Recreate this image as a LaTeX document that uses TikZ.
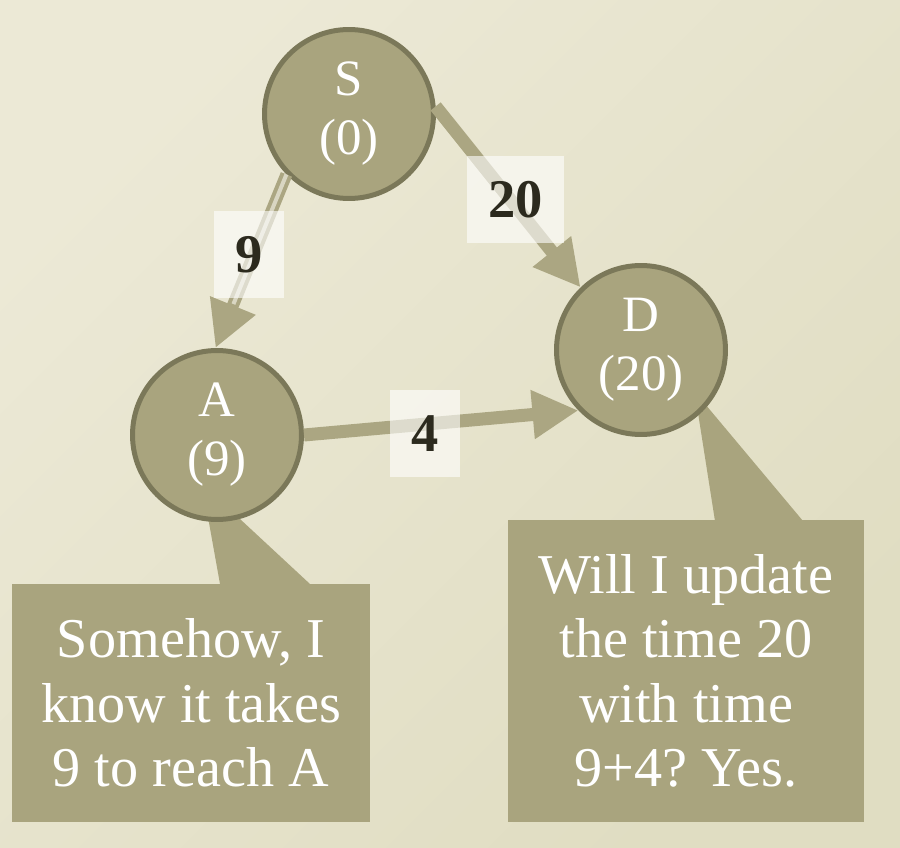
\documentclass[tikz,border=0pt]{standalone}
\usepackage{fontspec}
\setmainfont{Liberation Serif}
\usetikzlibrary{arrows.meta,positioning}
\frenchspacing

\definecolor{fondhaut}{HTML}{ECE9D6}
\definecolor{fondbas}{HTML}{E0DDC2}
\definecolor{olive}{HTML}{A9A47E}
\definecolor{bord}{HTML}{7B7859}
\definecolor{trait}{HTML}{ABA682}
\definecolor{raie}{HTML}{D9D6C2}
\definecolor{encre}{HTML}{2C2A1E}

\begin{document}
\begin{tikzpicture}[x=0.02cm, y=-0.02cm,
    etat/.style={circle, draw=bord, line width=0.1cm, fill=olive, minimum size=3.38cm, inner sep=0pt, text=white, align=center, font=\fontsize{29}{33.6}\selectfont},
    bulle/.style={rectangle, fill=olive, text=white, align=center, inner sep=0pt, font=\fontsize{32}{36.7}\selectfont},
    pointe/.style={fill=olive},
    arc/.style={draw=trait, line width=0.26cm, -{Triangle[length=0.92cm, width=0.92cm]}},
    arcdouble/.style={arc, line width=0.24cm},
    milieu/.style={draw=raie, line width=0.08cm, shorten >=0.95cm},
    poids/.style={rectangle, fill=white, fill opacity=0.6, text opacity=1, text=encre, font=\fontsize{31}{36}\selectfont\bfseries, minimum height=1.74cm, inner xsep=0.43cm, inner ysep=0pt}
]

    % Fond
    \shade[top color=fondhaut, bottom color=fondbas, shading angle=45] (0,0) rectangle (900,848);
    \useasboundingbox (0,0) rectangle (900,848);

    % Bulles
    \fill[pointe] (220,584) -- (206,506) -- (226,506) -- (310,584) -- cycle;
    \fill[pointe] (715,521) -- (696,400) -- (700,398) -- (803,521) -- cycle;
    \node[bulle, minimum width=7.16cm, minimum height=4.76cm] (noteA) at (191,703) {Somehow, I\\know it takes\\9 to reach A};
    \node[bulle, minimum width=7.12cm, minimum height=6.04cm] (noteD) at (686,671) {Will I update\\the time 20\\with time\\9+4? Yes.};

    % Sommets
    \node[etat] (S) at (349,114) {S\\(0)};
    \node[etat] (A) at (217,435) {A\\(9)};
    \node[etat] (D) at (641,350) {D\\(20)};

    % Arcs
    \draw[arcdouble] (S.224) -- (A.91);
    \draw[milieu] (S.224) -- node[poids, pos=0.46, xshift=-0.09cm] {9} (A.91);
    \draw[arc] (S.5) -- node[poids, pos=0.55, yshift=0.13cm] {20} (D.134);
    \draw[arc] (A.0) -- node[poids, pos=0.44, yshift=-0.19cm] {4} (D.224);

\end{tikzpicture}
\end{document}
